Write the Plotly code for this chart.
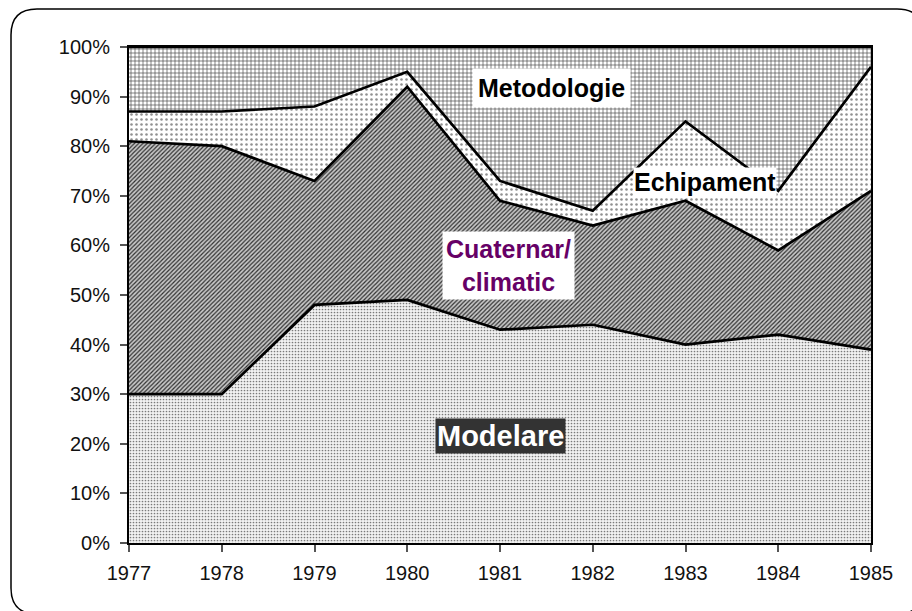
import plotly.graph_objects as go

years = [1977, 1978, 1979, 1980, 1981, 1982, 1983, 1984, 1985]
modelare = [30, 30, 48, 49, 43, 44, 40, 42, 39]
cuaternar = [51, 50, 25, 43, 26, 20, 29, 17, 32]
echipament = [6, 7, 15, 3, 4, 3, 16, 12, 25]
metodologie = [13, 13, 12, 5, 27, 33, 15, 29, 4]

y_ticks = list(range(0, 101, 10))
y_ticktext = [f"{v}%" for v in y_ticks]

FONT = "Arial, Liberation Sans, sans-serif"

fig = go.Figure()

series = [
    ("Modelare", modelare, dict(shape=".", fgcolor="#7a7a7a", bgcolor="#f2f2f2", size=3, solidity=0.25)),
    ("Cuaternar/climatic", cuaternar, dict(shape="/", fgcolor="#303030", bgcolor="#c8c8c8", size=3, solidity=0.4)),
    ("Echipament", echipament, dict(shape=".", fgcolor="#909090", bgcolor="#ffffff", size=5, solidity=0.2)),
    ("Metodologie", metodologie, dict(shape="+", fgcolor="#444444", bgcolor="#ffffff", size=4, solidity=0.3)),
]

for name, vals, pat in series:
    fig.add_trace(go.Scatter(
        x=years, y=vals, name=name, mode="lines",
        stackgroup="one",
        line=dict(color="black", width=2.7),
        fillpattern=dict(fillmode="replace", **pat),
        fillcolor=pat["bgcolor"],
        hoverinfo="skip",
    ))

# figure geometry helpers for decoration (rounded outer border)
L, R, T, B = 129, 41, 47, 68
W, H = 912, 611
pw, ph = W - L - R, H - T - B

def px(x):
    return (x - L) / pw

def py(y):
    return (H - B - y) / ph

x0, x1, y0, y1 = px(11), px(923), py(9), py(614)
rx, ry = 26 / pw, 26 / ph
path = (
    f"M {x0+rx},{y0} L {x1-rx},{y0} Q {x1},{y0} {x1},{y0-ry} "
    f"L {x1},{y1+ry} Q {x1},{y1} {x1-rx},{y1} "
    f"L {x0+rx},{y1} Q {x0},{y1} {x0},{y1+ry} "
    f"L {x0},{y0-ry} Q {x0},{y0} {x0+rx},{y0} Z"
)
fig.add_shape(type="path", path=path, xref="paper", yref="paper",
              line=dict(color="black", width=1.5), layer="above")

ann_common = dict(showarrow=False, xref="x", yref="y")
fig.add_annotation(x=1981.55, y=91.7, text="<b>Metodologie</b>",
                   font=dict(family=FONT, size=25, color="black"),
                   bgcolor="white", borderpad=5, **ann_common)
fig.add_annotation(x=1983.21, y=72.8, text="<b>Echipament</b>",
                   font=dict(family=FONT, size=25, color="black"),
                   bgcolor="white", borderpad=0, **ann_common)
fig.add_annotation(x=1981.09, y=56.0, text="<b>Cuaternar/<br>climatic</b>",
                   font=dict(family=FONT, size=25, color="#660066"),
                   bgcolor="white", borderpad=3, **ann_common)
fig.add_annotation(x=1981.0, y=21.6, text="<b>Modelare</b>",
                   font=dict(family=FONT, size=29, color="white"),
                   bgcolor="#333333", borderpad=1, **ann_common)

fig.update_layout(
    width=W, height=H,
    margin=dict(l=L, r=R, t=T, b=B),
    paper_bgcolor="white",
    plot_bgcolor="white",
    showlegend=False,
    font=dict(family=FONT, size=20, color="black"),
)
fig.update_xaxes(
    range=[1977, 1985], tickvals=years, ticktext=[str(y) for y in years],
    showgrid=False, zeroline=False,
    showline=True, linecolor="black", linewidth=2, mirror=True,
    ticks="outside", ticklen=7, tickcolor="#555", tickwidth=1.5,
    ticklabelstandoff=4,
    tickfont=dict(family=FONT, size=20, color="#111"),
)
fig.update_yaxes(
    range=[0, 100], tickvals=y_ticks, ticktext=y_ticktext,
    showgrid=False, zeroline=False,
    showline=True, linecolor="black", linewidth=2, mirror=True,
    ticks="outside", ticklen=7, tickcolor="#555", tickwidth=1.5,
    ticklabelstandoff=6,
    tickfont=dict(family=FONT, size=20, color="#111"),
)

fig.write_html("out.html", config={"displayModeBar": False},
               post_script="document.body.style.margin='0';")
